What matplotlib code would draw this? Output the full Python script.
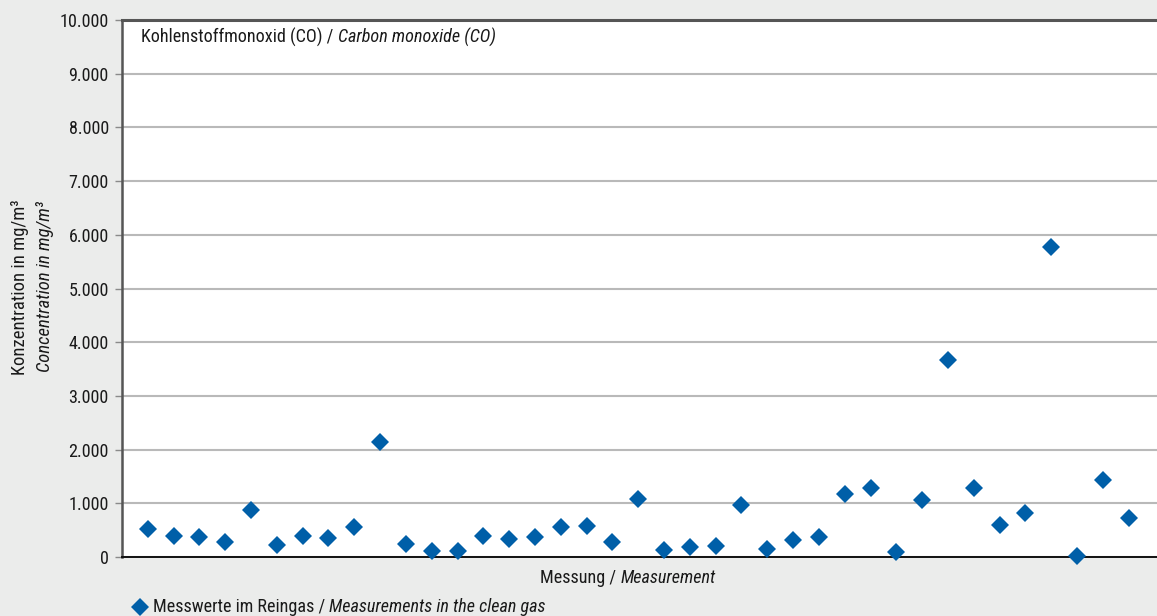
import matplotlib
matplotlib.use("Agg")
import matplotlib.pyplot as plt
from matplotlib.ticker import FuncFormatter, MultipleLocator

# Daten
messung = list(range(1, 40))
co_werte = [525, 395, 370, 280, 875, 215, 395, 355, 560, 2140,
            240, 120, 120, 395, 340, 375, 560, 575, 280, 1080,
            125, 180, 200, 975, 145, 325, 380, 1175, 1290, 90,
            1070, 3670, 1290, 595, 825, 5780, 25, 1435, 720]

titel_de = "Kohlenstoffmonoxid (CO) / "
titel_en = "Carbon monoxide (CO)"
ylabel_de = "Konzentration in mg/m³"
ylabel_en = "Concentration in mg/m³"
xlabel_de = "Messung / "
xlabel_en = "Measurement"
legende_de = "Messwerte im Reingas / "
legende_en = "Measurements in the clean gas"

bg = "#ebeceb"
blau = "#005fa8"
txt = "#1a1a1a"
plt.rcParams["font.family"] = ["Roboto Condensed", "DejaVu Sans"]
fs = 13.1

W, H = 1157, 616
fig = plt.figure(figsize=(W / 100, H / 100), dpi=100, facecolor=bg)
ax = fig.add_axes([122 / W, 59 / H, (W - 122) / W, (557 - 20) / H])
ax.set_facecolor("white")

ax.plot(messung, co_werte, linestyle="none", marker="D", markersize=9,
        color=blau, markeredgewidth=0, clip_on=False, zorder=5)

ax.set_xlim(0, 40.1)
ax.set_ylim(0, 10000)
ax.yaxis.set_major_locator(MultipleLocator(1000))
ax.yaxis.set_major_formatter(FuncFormatter(lambda v, p: f"{v:,.0f}".replace(",", ".")))
ax.set_xticks([])
ax.tick_params(axis="y", length=5, width=1, color="#8a8a8a", pad=4.5,
               labelsize=fs, labelcolor=txt)
ax.grid(axis="y", color="#b9b9b9", linewidth=1.5)
ax.set_axisbelow(True)

ax.spines["left"].set_color("#555555")
ax.spines["left"].set_linewidth(1.8)
ax.spines["top"].set_color("#555555")
ax.spines["top"].set_linewidth(2.2)
ax.spines["bottom"].set_color("#111111")
ax.spines["bottom"].set_linewidth(1.4)
ax.spines["right"].set_visible(False)

# Titel im Diagramm
t1 = fig.text(141 / W, 1 - 43 / H, titel_de, fontsize=fs, va="baseline", color=txt)
ax.annotate(titel_en, xy=(1, 0), xycoords=t1, va="bottom", fontsize=fs,
            style="italic", color=txt)

# y-Achsenbeschriftung (zwei Zeilen)
fig.text(20 / W, 1 - 287 / H, ylabel_de, rotation=90, ha="center", va="center",
         fontsize=13.4, color=txt)
fig.text(45 / W, 1 - 287 / H, ylabel_en, rotation=90, ha="center", va="center",
         fontsize=13.4, style="italic", color=txt)

# x-Achsenbeschriftung
x1 = fig.text(540 / W, 1 - 583 / H, xlabel_de, fontsize=fs, va="baseline", color=txt)
ax.annotate(xlabel_en, xy=(1, 0), xycoords=x1, va="bottom", fontsize=fs,
            style="italic", color=txt)

# Legende
fig.lines.append(plt.Line2D([140 / W], [1 - 606.5 / H], transform=fig.transFigure,
                            marker="D", markersize=9, color=blau,
                            markeredgewidth=0, linestyle="none"))
l1 = fig.text(153 / W, 1 - 612 / H, legende_de, fontsize=fs, va="baseline", color=txt)
ax.annotate(legende_en, xy=(1, 0), xycoords=l1, va="bottom", fontsize=fs,
            style="italic", color=txt)

fig.savefig("out.png", dpi=100, facecolor=bg)
